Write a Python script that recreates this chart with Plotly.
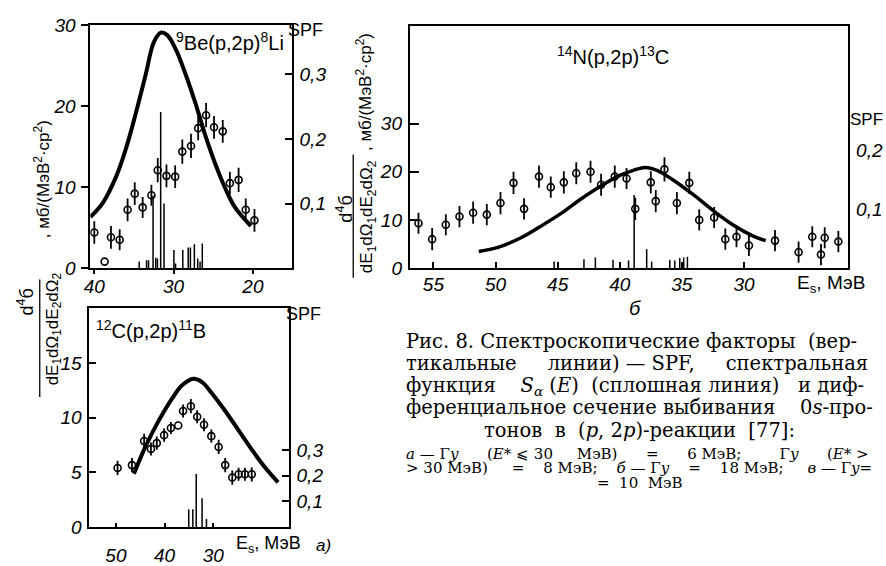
import plotly.graph_objects as go

W, H = 886, 566

# ---------------- data: panel a, 9Be(p,2p)8Li ----------------
a_E = [40.0, 38.7, 37.9, 36.8, 35.8, 34.9, 33.9, 32.8, 32.0, 30.9, 29.8,
       28.9, 27.8, 26.9, 25.9, 24.9, 23.8, 22.9, 21.8, 20.9, 19.8]
a_sig = [4.4, 0.8, 3.8, 3.5, 7.2, 9.2, 7.5, 9.0, 12.1, 11.4, 11.3,
         14.4, 15.1, 17.3, 18.9, 17.4, 16.9, 10.5, 10.9, 7.2, 5.9]
a_err = [1.4, 0.0, 1.4, 1.3, 1.4, 1.4, 1.3, 1.3, 1.5, 1.4, 1.4,
         1.5, 1.5, 1.5, 1.5, 1.4, 1.4, 1.4, 1.5, 1.4, 1.4]
a_curve_E = [40.5, 38.9, 37.25, 36.0, 34.75, 33.5, 32.5, 31.6, 30.8, 29.75,
             28.5, 27.25, 26.0, 24.75, 23.5, 22.25, 20.25]
a_curve_S = [6.3, 8.1, 11.3, 14.8, 19.2, 24.0, 27.9, 29.1, 28.8, 27.1,
             24.0, 20.4, 16.4, 12.9, 9.9, 7.5, 5.2]
a_spf_E = [34.34, 33.41, 33.16, 32.59, 32.25, 32.04, 31.63, 31.21, 29.96, 29.75,
           28.84, 28.16, 27.88, 27.38, 26.96, 26.66, 26.38]
a_spf = [0.010, 0.012, 0.012, 0.112, 0.016, 0.015, 0.242, 0.100, 0.028, 0.007,
         0.028, 0.032, 0.032, 0.037, 0.015, 0.010, 0.038]

# ---------------- data: panel c, 12C(p,2p)11B ----------------
c_E = [49.65, 46.7, 44.2, 42.8, 41.6, 40.1, 38.7, 37.2, 36.2, 34.6,
       33.3, 31.9, 30.4, 28.9, 27.55, 26.1, 24.8, 23.5, 22.1]
c_sig = [5.41, 5.67, 7.88, 7.15, 7.68, 8.41, 9.06, 9.29, 10.62, 11.06,
         10.09, 9.36, 8.32, 7.33, 5.67, 4.53, 4.83, 4.83, 4.83]
c_err = [0.65, 0.65, 0.65, 0.6, 0.6, 0.6, 0.55, 0.0, 0.6, 0.65,
         0.6, 0.6, 0.6, 0.65, 0.65, 0.65, 0.6, 0.6, 0.65]
c_curve_E = [46.3, 43.9, 41.2, 38.4, 36.4, 34.1, 32.3, 30.3, 27.55, 24.8,
             22.1, 19.4, 16.7]
c_curve_S = [4.88, 7.39, 9.74, 11.8, 12.97, 13.57, 13.27, 12.24, 10.62, 8.85,
             7.09, 5.47, 4.09]
c_spf_E = [35.04, 34.2, 33.5, 32.3, 31.4]
c_spf = [0.069, 0.069, 0.206, 0.112, 0.031]

# ---------------- data: panel b, 14N(p,2p)13C ----------------
b_E = [56.2, 55.1, 54.0, 52.9, 51.8, 50.7, 49.6, 48.55, 47.7, 46.5,
       45.55, 44.5, 43.5, 42.35, 41.5, 40.4, 39.45, 38.75, 37.5, 37.1,
       36.4, 35.4, 34.4, 33.6, 32.4, 31.5, 30.6, 29.6, 27.5, 25.6,
       24.5, 23.8, 23.5, 22.4]
b_sig = [9.3, 6.0, 9.0, 10.7, 11.5, 11.1, 13.5, 17.7, 12.3, 19.0,
         16.8, 17.8, 19.7, 20.0, 17.3, 19.0, 18.6, 12.3, 17.8, 13.9,
         20.5, 13.5, 17.7, 10.0, 10.5, 6.0, 6.5, 4.7, 5.7, 3.3,
         6.5, 2.8, 6.3, 5.5]
b_err = [2.2, 2.3, 2.2, 2.2, 2.3, 2.2, 2.3, 2.3, 2.2, 2.3,
         2.2, 2.3, 2.3, 2.3, 2.3, 2.3, 2.2, 2.3, 2.3, 2.3,
         2.5, 2.3, 2.3, 2.2, 2.2, 2.2, 2.2, 2.2, 2.2, 2.2,
         2.2, 2.2, 2.2, 2.2]
b_curve_E = [51.35, 49.8, 47.95, 46.35, 44.75, 43.15, 41.55, 39.95, 38.9, 37.95,
             37.0, 35.7, 34.1, 32.5, 30.9, 29.3, 28.25]
b_curve_S = [3.46, 4.3, 6.3, 8.7, 11.3, 14.3, 17.0, 19.3, 20.3, 20.9,
             20.3, 18.3, 15.3, 12.0, 9.0, 6.7, 5.7]
b_spf_E = [45.28, 42.88, 41.96, 40.54, 39.29, 38.84, 37.83, 37.43, 35.97, 35.57,
           35.17, 34.85, 34.55]
b_spf = [0.011, 0.015, 0.018, 0.014, 0.013, 0.124, 0.032, 0.011, 0.014, 0.013,
         0.017, 0.018, 0.019]

# tick labels
a_xticks = [40, 30, 20]
a_yticks = [0, 10, 20, 30]
a_spf_ticks = [0.1, 0.2, 0.3]
c_xticks = [50, 40, 30]
c_yticks = [0, 5, 10, 15]
c_spf_ticks = [0.1, 0.2, 0.3]
b_xticks = [55, 50, 45, 40, 35, 30]
b_yticks = [0, 10, 20, 30]
b_spf_ticks = [0.1, 0.2]


def px(x):
    return x / W


def py(y):
    return 1 - y / H


def stems(E, v):
    xs, ys = [], []
    for e, s in zip(E, v):
        xs += [e, e, None]
        ys += [0, s, None]
    return xs, ys


TICKFONT = dict(family="Liberation Sans, Arial", size=19, color="black")
SANS = "Liberation Sans, Arial"
SERIF = "DejaVu Serif, Liberation Serif, serif"

fig = go.Figure()


def add_panel(E, sig, err, cE, cS, sE, sv, xa, ya, ya2, curve_w):
    fig.add_trace(go.Scatter(x=cE, y=cS, mode="lines", xaxis=xa, yaxis=ya,
                             line=dict(color="black", width=curve_w, shape="spline"),
                             showlegend=False, hoverinfo="skip"))
    fig.add_trace(go.Scatter(x=E, y=sig, mode="markers", xaxis=xa, yaxis=ya,
                             marker=dict(symbol="circle-open", size=7, color="black",
                                         line=dict(width=1.6, color="black")),
                             error_y=dict(type="data", array=err, visible=True,
                                          thickness=1.8, width=0, color="black"),
                             showlegend=False))
    sx, sy = stems(sE, sv)
    fig.add_trace(go.Scatter(x=sx, y=sy, mode="lines", xaxis=xa, yaxis=ya2,
                             line=dict(color="black", width=1.5),
                             showlegend=False, hoverinfo="skip"))


add_panel(a_E, a_sig, a_err, a_curve_E, a_curve_S, a_spf_E, a_spf, "x", "y", "y2", 4)
add_panel(c_E, c_sig, c_err, c_curve_E, c_curve_S, c_spf_E, c_spf, "x2", "y3", "y4", 4)
add_panel(b_E, b_sig, b_err, b_curve_E, b_curve_S, b_spf_E, b_spf, "x3", "y5", "y6", 3.5)


def it(v):
    return "<i>%s</i>" % v


def xaxis(domain, rng, vals, anchor, ticks="outside", ticklen=4, standoff=0):
    return dict(domain=domain, range=rng, tickvals=vals, ticktext=[it(v) for v in vals],
                anchor=anchor, showline=True, mirror=True, linecolor="black", linewidth=2,
                ticks=ticks, ticklen=ticklen, tickwidth=1.5, tickcolor="black",
                showgrid=False, zeroline=False, tickfont=TICKFONT, ticklabelstandoff=standoff)


def yaxis(domain, rng, vals, anchor, ticks="outside", ticklen=7):
    return dict(domain=domain, range=rng, tickvals=vals, ticktext=[it(v) for v in vals],
                anchor=anchor, showline=True, mirror=True, linecolor="black", linewidth=2,
                ticks=ticks, ticklen=ticklen, tickwidth=1.5, tickcolor="black",
                showgrid=False, zeroline=False, tickfont=TICKFONT, ticklabelstandoff=2)


def spfaxis(over, rng, vals, anchor, ticks="inside"):
    return dict(overlaying=over, side="right", range=rng, tickvals=vals,
                ticktext=[it(("%.1f" % v).replace(".", ",")) for v in vals],
                anchor=anchor, showline=True, linecolor="black", linewidth=2,
                ticks=ticks, ticklen=7, tickwidth=1.5, tickcolor="black",
                showgrid=False, zeroline=False, tickfont=TICKFONT, ticklabelstandoff=2)


fig.update_layout(
    width=W, height=H, margin=dict(l=0, r=0, t=0, b=0),
    paper_bgcolor="white", plot_bgcolor="white",
    xaxis=xaxis([px(84), px(287)], [40.5, 15.1], a_xticks, "y", standoff=-4),
    yaxis=yaxis([py(268), py(16)], [0, 30.0], a_yticks, "x"),
    yaxis2=spfaxis("y", [0, 0.376], a_spf_ticks, "x"),
    xaxis2=xaxis([px(83), px(284)], [55.45, 14.5], c_xticks, "y3", ticks="inside", standoff=10),
    yaxis3=yaxis([py(537), py(310)], [0, 20.0], c_yticks, "x2", ticks="inside"),
    yaxis4=spfaxis("y3", [0, 0.85], c_spf_ticks, "x2"),
    xaxis3=xaxis([px(406), px(848)], [56.9, 21.6], b_xticks, "y5", ticks="inside", ticklen=6,
                 standoff=-2),
    yaxis5=yaxis([py(268), py(17)], [0, 50.2], b_yticks, "x3", ticks="inside", ticklen=9),
    yaxis6=spfaxis("y5", [0, 0.41], b_spf_ticks, "x3", ticks=""),
)

ann = []


def text(x, y, t, size=19, font=SANS, angle=0, xanchor="center", yanchor="middle",
         align="center"):
    ann.append(dict(x=px(x), y=py(y), xref="paper", yref="paper", text=t, showarrow=False,
                    xanchor=xanchor, yanchor=yanchor, textangle=angle, align=align,
                    font=dict(family=font, size=size, color="black")))


# panel titles
text(225, 33, "<sup>9</sup>Be(p,2p)<sup>8</sup>Li", 20)
text(145, 332, "<sup>12</sup>C(p,2p)<sup>11</sup>B", 20)
text(611, 47, "<sup>14</sup>N(p,2p)<sup>13</sup>C", 20)

# SPF axis titles
text(301, 21, "SPF", 18)
text(299, 316, "SPF", 18)
text(885, 114, "SPF", 17, xanchor="right")

# energy labels
text(264, 555, "E<sub>s</sub>, МэВ", 18)
text(831, 285, "E<sub>s</sub>, МэВ", 19)
text(319, 556, "<i>a)</i>", 17)
text(633, 309, "<i>б</i>", 20)

# shared y-axis label for left panels
text(19, 303, "d<sup>4</sup>б", 18, angle=-90)
text(47, 331, "dE<sub>1</sub>dΩ<sub>1</sub>dE<sub>2</sub>dΩ<sub>2</sub>", 17, angle=-90)
text(36, 176, ", мб/(МэВ<sup>2</sup>·ср<sup>2</sup>)", 17, angle=-90)
# y-axis label for panel b
text(340, 207, "d<sup>4</sup>б", 18, angle=-90)
text(364, 215, "dE<sub>1</sub>dΩ<sub>1</sub>dE<sub>2</sub>dΩ<sub>2</sub>", 17, angle=-90)
text(360, 85, ", мб/(МэВ<sup>2</sup>·ср<sup>2</sup>)", 17, angle=-90)


def sp(n):
    return "\u00a0" * n


# caption (justified look via extra spaces)
CL = 400
cap = [
    (344, "Рис. 8. Спектроскопические факторы" + sp(2) + "(вер-"),
    (367, "тикальные" + sp(5) + "линии) — SPF," + sp(5) + "спектральная"),
    (391, "функция" + sp(4) + "<i>S</i><sub><i>α</i></sub>" + sp(1) + "(<i>E</i>)" + sp(2)
     + "(сплошная линия)" + sp(3) + "и диф-"),
    (413, "ференциальное сечение выбивания" + sp(4) + "0<i>s</i>-про-"),
]
for yy, t in cap:
    text(CL, yy, t, 19.5, font=SERIF, xanchor="left")
text(638, 437, "тонов" + sp(2) + "в" + sp(2) + "(<i>p</i>, 2<i>p</i>)-реакции" + sp(2) + "[77]:",
     19.5, font=SERIF)

small = [
    (461, "<i>a</i> — Γ<i>y</i>" + sp(6) + "(<i>E</i>* ⩽ 30" + sp(5) + "МэВ)" + sp(6) + "="
     + sp(6) + "6 МэВ;" + sp(8) + "Γ<i>y</i>" + sp(6) + "(<i>E</i>* >"),
    (476, "> 30 МэВ)" + sp(5) + "=" + sp(4) + "8 МэВ;" + sp(4) + "<i>б</i> — Γ<i>y</i>" + sp(4)
     + "=" + sp(4) + "18 МэВ;" + sp(5) + "<i>в</i> — Γ<i>y</i>="),
]
for yy, t in small:
    text(CL, yy, t, 15, font=SERIF, xanchor="left")
text(638, 491, "=" + sp(2) + "10" + sp(2) + "МэВ", 15, font=SERIF)

fig.update_layout(annotations=ann)

shapes = [
    dict(type="line", xref="paper", yref="paper", x0=px(33), x1=px(33), y0=py(280), y1=py(402),
         line=dict(color="black", width=1.3)),
    dict(type="line", xref="paper", yref="paper", x0=px(349), x1=px(349), y0=py(150), y1=py(278),
         line=dict(color="black", width=1.3)),
]
fig.update_layout(shapes=shapes)

fig.write_html("out.html")
